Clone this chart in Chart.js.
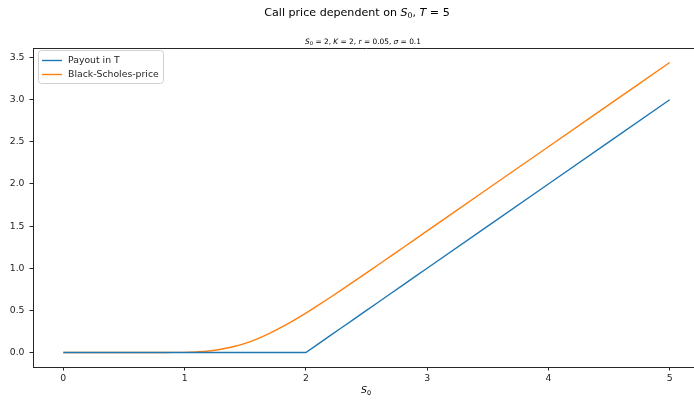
<!DOCTYPE html>
<html>
<head>
<meta charset="utf-8">
<script src="https://cdn.jsdelivr.net/npm/chart.js@4"></script>
<style>
  html, body { margin: 0; padding: 0; background: #fff; overflow: hidden; }
  #wrap { width: 694px; height: 401px; overflow: hidden; }
</style>
</head>
<body>
<div id="wrap"><canvas id="callChart" width="706" height="401"></canvas></div>
<script>
// spot prices S0 (x axis)
const spot = [0, 0.5, 0.8, 0.9, 1.0, 1.1, 1.2, 1.3, 1.4, 1.5, 1.6, 1.7, 1.8, 1.9, 2.0,
              2.1, 2.2, 2.3, 2.4, 2.5, 2.6, 2.7, 2.8, 2.9, 3.0, 3.5, 4.0, 4.5, 5.0];
// payout at maturity
const payout = [0, 0, 0, 0, 0, 0, 0, 0, 0, 0, 0, 0, 0, 0, 0,
                0.1, 0.2, 0.3, 0.4, 0.5, 0.6, 0.7, 0.8, 0.9, 1.0, 1.5, 2.0, 2.5, 3.0];
// Black-Scholes call price
const bsPrice = [0, 0, 0, 0.001, 0.002, 0.008, 0.018, 0.038, 0.068, 0.109, 0.163, 0.227, 0.301, 0.382, 0.468,
                 0.559, 0.653, 0.749, 0.847, 0.945, 1.044, 1.143, 1.243, 1.343, 1.443, 1.943, 2.442, 2.942, 3.442];
const seriesNames = ["Payout in T", "Black-Scholes-price"];
const xTicks = [0, 1, 2, 3, 4, 5];
const yTicks = [0.0, 0.5, 1.0, 1.5, 2.0, 2.5, 3.0, 3.5];

const FONT = "'DejaVu Sans', sans-serif";
const INK = "#262626";
const SMALL = 9.3;

// draw a line of text made of plain / italic / subscript pieces
function drawRich(ctx, parts, cx, baseline, size) {
    let total = 0;
    parts.forEach(p => {
        let s = p.sub ? size * 0.7 : size;
        ctx.font = (p.it ? "italic " : "") + s + "px " + FONT;
        p.w = ctx.measureText(p.t).width;
        total += p.w;
    });
    let x = cx - total / 2;
    ctx.textAlign = "left";
    ctx.textBaseline = "alphabetic";
    parts.forEach(p => {
        let s = p.sub ? size * 0.7 : size;
        ctx.font = (p.it ? "italic " : "") + s + "px " + FONT;
        ctx.fillText(p.t, x, baseline + (p.sub ? size * 0.2 : 0));
        x += p.w;
    });
}

const decorPlugin = {
    id: "decor",
    afterDraw(chart) {
        const ctx = chart.ctx;
        const a = chart.chartArea;
        ctx.save();
        ctx.fillStyle = "#000";

        // top + right spines
        ctx.strokeStyle = INK;
        ctx.lineWidth = 1;
        ctx.beginPath();
        ctx.moveTo(a.left, a.top + 0.5);
        ctx.lineTo(a.right, a.top + 0.5);
        ctx.lineTo(a.right, a.bottom);
        ctx.stroke();

        // figure title
        drawRich(ctx, [
            { t: "Call price dependent on " },
            { t: "S", it: true }, { t: "0", sub: true },
            { t: ", " }, { t: "T", it: true }, { t: " = 5" }
        ], 357, 16, 11.1);

        // axes title
        drawRich(ctx, [
            { t: "S", it: true }, { t: "0", sub: true }, { t: " = 2, " },
            { t: "K", it: true }, { t: " = 2, " },
            { t: "r", it: true }, { t: " = 0.05, " },
            { t: "σ", it: true }, { t: " = 0.1" }
        ], 363, 44, 7.4);

        // x axis label
        drawRich(ctx, [{ t: "S", it: true }, { t: "0", sub: true }], 366, 393, SMALL);

        // legend
        const lx = 38.5, ly = 50.5, lw = 125, lh = 33;
        ctx.fillStyle = "rgba(255,255,255,0.8)";
        ctx.strokeStyle = "#d0d0d0";
        ctx.lineWidth = 1;
        ctx.beginPath();
        ctx.roundRect(lx, ly, lw, lh, 3);
        ctx.fill();
        ctx.stroke();
        chart.data.datasets.forEach((ds, i) => {
            const y = 60.5 + i * 14;
            ctx.strokeStyle = ds.borderColor;
            ctx.lineWidth = 1.4;
            ctx.beginPath();
            ctx.moveTo(42, y);
            ctx.lineTo(62, y);
            ctx.stroke();
            ctx.fillStyle = INK;
            ctx.font = SMALL + "px " + FONT;
            ctx.textBaseline = "middle";
            ctx.textAlign = "left";
            ctx.fillText(ds.label, 68, y);
        });
        ctx.restore();
    }
};

new Chart(document.getElementById("callChart"), {
    type: "line",
    data: {
        datasets: [{
            label: seriesNames[0],
            data: spot.map((s, i) => ({ x: s, y: payout[i] })),
            borderColor: "#1f77b4",
            borderWidth: 1.4,
            pointRadius: 0,
            tension: 0
        }, {
            label: seriesNames[1],
            data: spot.map((s, i) => ({ x: s, y: bsPrice[i] })),
            borderColor: "#ff7f0e",
            borderWidth: 1.4,
            pointRadius: 0,
            cubicInterpolationMode: "monotone"
        }]
    },
    options: {
        responsive: false,
        animation: false,
        devicePixelRatio: 1,
        layout: { padding: { left: 0, right: 6, top: 48, bottom: 0 } },
        plugins: { legend: { display: false }, title: { display: false }, tooltip: { enabled: false } },
        scales: {
            x: {
                type: "linear",
                min: -0.25,
                max: 5.25,
                afterBuildTicks: s => { s.ticks = xTicks.map(v => ({ value: v })); },
                afterFit: s => { s.height = 34; },
                grid: { drawOnChartArea: false, color: INK, tickLength: 3.5 },
                border: { color: INK, width: 1 },
                ticks: { color: INK, font: { family: FONT, size: SMALL }, padding: 3, callback: v => String(v) }
            },
            y: {
                type: "linear",
                min: -0.172,
                max: 3.614,
                afterBuildTicks: s => { s.ticks = yTicks.map(v => ({ value: v })); },
                afterFit: s => { s.width = 33; },
                grid: { drawOnChartArea: false, color: INK, tickLength: 3.5 },
                border: { color: INK, width: 1 },
                ticks: { color: INK, font: { family: FONT, size: SMALL }, padding: 5, callback: v => v.toFixed(1) }
            }
        }
    },
    plugins: [decorPlugin]
});
</script>
</body>
</html>
